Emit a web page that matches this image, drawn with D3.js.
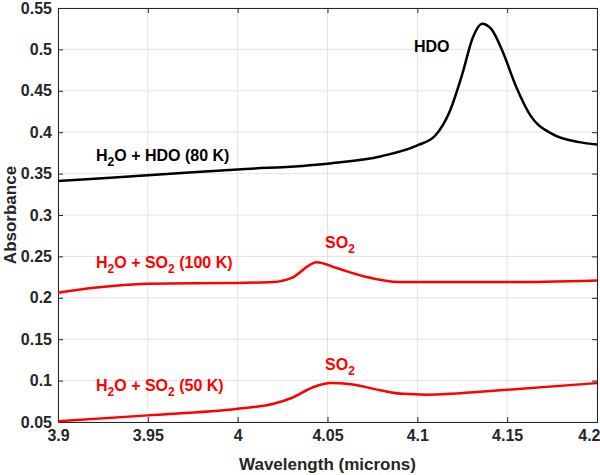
<!DOCTYPE html>
<html><head><meta charset="utf-8">
<script src="https://cdn.jsdelivr.net/npm/d3@7"></script>
<style>body{margin:0;background:#fff}text{font-family:"Liberation Sans",Arial,sans-serif;font-weight:bold}</style>
</head><body><svg id="c" width="600" height="475"></svg>
<script>
var xTicks = [3.9, 3.95, 4.0, 4.05, 4.1, 4.15, 4.2];
var yTicks = [0.05, 0.1, 0.15, 0.2, 0.25, 0.3, 0.35, 0.4, 0.45, 0.5, 0.55];
var hdo80 = [[3.9,0.341],[3.95,0.348],[4.0,0.355],[4.05,0.362],[4.08,0.371],[4.1,0.384],[4.11,0.396],[4.118,0.425],[4.125,0.47],[4.131,0.515],[4.136,0.531],[4.141,0.525],[4.147,0.5],[4.155,0.455],[4.163,0.42],[4.175,0.398],[4.19,0.388],[4.2,0.385]];
var so2100 = [[3.9,0.206],[3.92,0.212],[3.95,0.217],[4.0,0.218],[4.02,0.219],[4.03,0.224],[4.044,0.243],[4.055,0.236],[4.07,0.226],[4.09,0.219],[4.1,0.219],[4.15,0.219],[4.2,0.221]];
var so250 = [[3.9,0.051],[3.95,0.058],[4.0,0.066],[4.02,0.072],[4.03,0.079],[4.042,0.092],[4.052,0.097],[4.062,0.096],[4.08,0.088],[4.092,0.084],[4.105,0.083],[4.15,0.089],[4.2,0.097]];

var m = {l:58, r:3, t:8, b:53}, W = 600, H = 475;
var svg = d3.select("#c");
var x = d3.scaleLinear().domain([3.9,4.2]).range([m.l, W-m.r]);
var y = d3.scaleLinear().domain([0.05,0.55]).range([H-m.b, m.t]);

var g = svg.append("g");
g.selectAll(".gx").data(xTicks).enter().append("line").attr("x1",x).attr("x2",x).attr("y1",m.t).attr("y2",H-m.b).attr("stroke","#e3e3e3");
g.selectAll(".gy").data(yTicks).enter().append("line").attr("y1",y).attr("y2",y).attr("x1",m.l).attr("x2",W-m.r).attr("stroke","#e3e3e3");

var fmt = function(d){ return String(+d.toFixed(2)); };
var ax = svg.append("g").attr("transform","translate(0,"+(H-m.b)+")")
  .call(d3.axisBottom(x).tickValues(xTicks).tickFormat(fmt).tickSize(-5).tickPadding(8));
var ay = svg.append("g").attr("transform","translate("+m.l+",0)")
  .call(d3.axisLeft(y).tickValues(yTicks).tickFormat(fmt).tickSize(-5).tickPadding(6));
svg.append("g").attr("transform","translate(0,"+m.t+")").call(d3.axisTop(x).tickValues(xTicks).tickFormat("").tickSize(-5));
svg.append("g").attr("transform","translate("+(W-m.r)+",0)").call(d3.axisRight(y).tickValues(yTicks).tickFormat("").tickSize(-5));
svg.selectAll(".domain,.tick line").attr("stroke","#262626");
svg.selectAll(".tick text").attr("font-size",16).attr("fill","#262626");
ax.selectAll(".tick text").filter(function(d){return d===4.2;}).attr("text-anchor","end").attr("dx",3);

var line = d3.line().x(function(d){return x(d[0]);}).y(function(d){return y(d[1]);}).curve(d3.curveMonotoneX);
[[hdo80,"#000"],[so2100,"#ff0000"],[so250,"#ff0000"]].forEach(function(s){
  svg.append("path").datum(s[0]).attr("d",line).attr("fill","none").attr("stroke",s[1]).attr("stroke-width",2.5);
});

svg.append("text").attr("x",(m.l+W-m.r)/2).attr("y",470).attr("text-anchor","middle").attr("font-size",17).attr("fill","#262626").text("Wavelength (microns)");
svg.append("text").attr("transform","translate(16,"+((m.t+H-m.b)/2)+") rotate(-90)").attr("text-anchor","middle").attr("font-size",17).attr("fill","#262626").text("Absorbance");

function label(px, py, parts, color){
  var t = svg.append("text").attr("x",px).attr("y",py).attr("font-size",16).attr("fill",color);
  parts.forEach(function(p){
    var s = t.append("tspan").text(p[0]);
    if (p[1]) s.attr("font-size",12).attr("dy",5); else if (p[2]) s.attr("dy",-5);
  });
}
label(414,52,[["HDO"]],"#000");
label(96,161,[["H"],["2",1],["O + HDO (80 K)",0,1]],"#000");
label(96,268,[["H"],["2",1],["O + SO",0,1],["2",1],[" (100 K)",0,1]],"#ff0000");
label(325,248,[["SO"],["2",1]],"#ff0000");
label(96,391,[["H"],["2",1],["O + SO",0,1],["2",1],[" (50 K)",0,1]],"#ff0000");
label(325,370,[["SO"],["2",1]],"#ff0000");
</script></body></html>
